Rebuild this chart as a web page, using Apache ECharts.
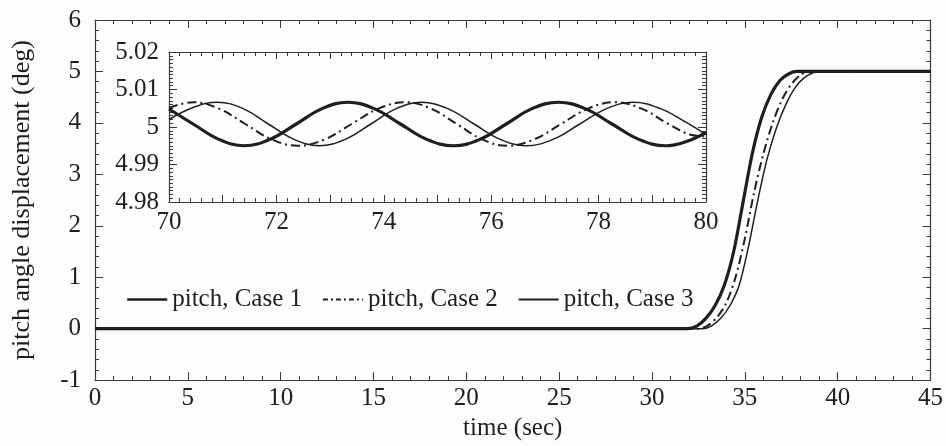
<!DOCTYPE html>
<html>
<head>
<meta charset="utf-8">
<script src="https://cdn.jsdelivr.net/npm/echarts@6.0.0/dist/echarts.min.js"></script>
<style>
  html, body { margin: 0; padding: 0; background: #fdfdfc; }
  #main { width: 946px; height: 446px; }
</style>
</head>
<body>
<div id="main"></div>
<script>
// main plot: pitch angle vs time, all cases sit at 0 then swing to 5 deg
var case1Main = [[0, 0], [31.9, 0], [32.4, 0.05], [32.9, 0.2], [33.4, 0.45], [33.9, 0.85], [34.4, 1.5], [34.9, 2.45], [35.4, 3.4], [35.9, 4.1], [36.4, 4.55], [36.9, 4.83], [37.4, 4.96], [37.8, 5.0], [45, 5.0]];
var case2Main = [[0, 0], [32.5, 0], [33.0, 0.06], [33.5, 0.22], [34.0, 0.5], [34.5, 1.0], [35.0, 1.75], [35.5, 2.65], [36.0, 3.4], [36.5, 4.0], [37.0, 4.45], [37.5, 4.75], [38.0, 4.93], [38.5, 5.0], [45, 5.0]];
var case3Main = [[0, 0], [32.7, 0], [33.2, 0.05], [33.7, 0.2], [34.2, 0.45], [34.7, 0.85], [35.2, 1.6], [35.7, 2.5], [36.2, 3.3], [36.7, 3.9], [37.2, 4.35], [37.7, 4.68], [38.2, 4.88], [38.7, 4.98], [39.0, 5.0], [45, 5.0]];

// inset: 70-80 sec, zoomed around 5 deg (peaks, troughs and crossings)
var case1Inset = [[70.0, 5.0048], [70.45, 5.0008], [70.93, 4.9967], [71.4, 4.9950], [71.88, 4.9967], [72.37, 5.0008], [72.85, 5.0049], [73.33, 5.0066], [73.82, 5.0049], [74.31, 5.0008], [74.8, 4.9967], [75.3, 4.9950], [75.79, 4.9967], [76.28, 5.0008], [76.76, 5.0049], [77.25, 5.0066], [77.75, 5.0049], [78.25, 5.0008], [78.75, 4.9967], [79.25, 4.9950], [79.65, 4.9962], [80.0, 4.9985]];
var case2Inset = [[70.0, 5.0051], [70.45, 5.0066], [70.93, 5.0049], [71.42, 5.0008], [71.91, 4.9967], [72.4, 4.9950], [72.9, 4.9967], [73.4, 5.0008], [73.9, 5.0049], [74.4, 5.0066], [74.88, 5.0049], [75.36, 5.0008], [75.83, 4.9967], [76.3, 4.9950], [76.8, 4.9967], [77.3, 5.0008], [77.8, 5.0049], [78.3, 5.0066], [78.8, 5.0049], [79.3, 5.0008], [79.7, 4.9980], [80.0, 4.9975]];
var case3Inset = [[70.0, 5.0020], [70.45, 5.0052], [70.9, 5.0066], [71.38, 5.0049], [71.85, 5.0008], [72.33, 4.9967], [72.8, 4.9950], [73.28, 4.9967], [73.76, 5.0008], [74.23, 5.0049], [74.7, 5.0066], [75.19, 5.0049], [75.68, 5.0008], [76.17, 4.9967], [76.65, 4.9950], [77.15, 4.9967], [77.65, 5.0008], [78.15, 5.0049], [78.65, 5.0066], [79.15, 5.0049], [79.6, 5.0015], [80.0, 4.9980]];

var seriesNames = ['pitch, Case 1', 'pitch, Case 2', 'pitch, Case 3'];

var ink = '#1e1e1e';
var axisInk = '#3a3a3a';
var font = 'Liberation Serif';

function axisBase(extra) {
    var a = {
        axisLine: { show: true, onZero: false, lineStyle: { color: axisInk, width: 1.2 } },
        axisTick: { show: true, inside: true, length: 8, lineStyle: { color: axisInk, width: 1 } },
        minorTick: { show: true, splitNumber: 5, length: 4, lineStyle: { color: axisInk, width: 1 } },
        splitLine: { show: false },
        minorSplitLine: { show: false },
        axisLabel: { color: ink, fontFamily: font, fontSize: 25 }
    };
    return Object.assign(a, extra);
}

var domDiv = document.getElementById('main');
var myChart = echarts.init(domDiv, null, { renderer: 'canvas' });

var insetTickX = { show: true, inside: true, length: 7, lineStyle: { color: axisInk, width: 1 } };
var insetMinorX = { show: true, splitNumber: 5, length: 4, lineStyle: { color: axisInk, width: 1 } };
var insetTickY = { show: true, inside: true, length: 8, lineStyle: { color: axisInk, width: 1 } };
var insetMinorY = { show: true, splitNumber: 10, length: 4, lineStyle: { color: axisInk, width: 1 } };

var option = {
    backgroundColor: '#fdfdfc',
    animation: false,
    grid: [
        { left: 95, top: 20, width: 837, height: 363 },
        { left: 169, top: 52, width: 537, height: 150 }
    ],
    legend: {
        data: [
            { name: seriesNames[0], itemStyle: { opacity: 0 }, lineStyle: { color: ink, width: 2.4, type: 'solid' } },
            { name: seriesNames[1], itemStyle: { opacity: 0 }, lineStyle: { color: ink, width: 1.8, type: [5, 3, 2, 3] } },
            { name: seriesNames[2], itemStyle: { opacity: 0 }, lineStyle: { color: ink, width: 1.8, type: 'solid' } }
        ],
        left: 121,
        top: 282,
        itemWidth: 40,
        itemHeight: 10,
        itemGap: 20,
        textStyle: { color: ink, fontFamily: font, fontSize: 25 }
    },
    xAxis: [
        axisBase({ gridIndex: 0, type: 'value', min: 0, max: 45, interval: 5, position: 'bottom',
            name: 'time (sec)', nameLocation: 'middle', nameGap: 34,
            nameTextStyle: { color: ink, fontFamily: font, fontSize: 25 },
            axisLabel: { color: ink, fontFamily: font, fontSize: 25, margin: 6 } }),
        axisBase({ gridIndex: 0, type: 'value', min: 0, max: 45, interval: 5, position: 'top',
            axisLabel: { show: false } }),
        axisBase({ gridIndex: 1, type: 'value', min: 70, max: 80, interval: 1, position: 'bottom',
            axisTick: insetTickX, minorTick: insetMinorX,
            axisLabel: { color: ink, fontFamily: font, fontSize: 25, margin: 8,
                formatter: function (v) { return Math.round(v) % 2 === 0 ? String(Math.round(v)) : ''; } } }),
        axisBase({ gridIndex: 1, type: 'value', min: 70, max: 80, interval: 1, position: 'top',
            axisTick: insetTickX, minorTick: insetMinorX,
            axisLabel: { show: false } })
    ],
    yAxis: [
        axisBase({ gridIndex: 0, type: 'value', min: -1, max: 6, interval: 1, position: 'left',
            name: 'pitch angle displacement (deg)', nameLocation: 'middle', nameGap: 60, nameRotate: 90,
            nameTextStyle: { color: ink, fontFamily: font, fontSize: 26 },
            axisLabel: { color: ink, fontFamily: font, fontSize: 25, margin: 14 } }),
        axisBase({ gridIndex: 0, type: 'value', min: -1, max: 6, interval: 1, position: 'right',
            axisLabel: { show: false } }),
        axisBase({ gridIndex: 1, type: 'value', min: 4.98, max: 5.02, interval: 0.01, position: 'left',
            axisTick: insetTickY, minorTick: insetMinorY,
            axisLabel: { color: ink, fontFamily: font, fontSize: 25, margin: 10,
                formatter: function (v) { return Math.abs(v - 5) < 1e-9 ? '5' : v.toFixed(2); } } }),
        axisBase({ gridIndex: 1, type: 'value', min: 4.98, max: 5.02, interval: 0.01, position: 'right',
            axisTick: insetTickY, minorTick: insetMinorY,
            axisLabel: { show: false } })
    ],
    series: [
        { name: seriesNames[0], type: 'line', xAxisIndex: 0, yAxisIndex: 0, data: case1Main,
          symbol: 'none', smooth: 0.3, lineStyle: { color: ink, width: 3.2 }, itemStyle: { color: ink } },
        { name: seriesNames[1], type: 'line', xAxisIndex: 0, yAxisIndex: 0, data: case2Main,
          symbol: 'none', smooth: 0.3, lineStyle: { color: ink, width: 2, type: [9, 4, 2, 4] }, itemStyle: { color: ink } },
        { name: seriesNames[2], type: 'line', xAxisIndex: 0, yAxisIndex: 0, data: case3Main,
          symbol: 'none', smooth: 0.3, lineStyle: { color: ink, width: 1.5 }, itemStyle: { color: ink } },
        { name: seriesNames[0], type: 'line', xAxisIndex: 2, yAxisIndex: 2, data: case1Inset,
          symbol: 'none', smooth: 0.4, lineStyle: { color: ink, width: 3.2 }, itemStyle: { color: ink } },
        { name: seriesNames[1], type: 'line', xAxisIndex: 2, yAxisIndex: 2, data: case2Inset,
          symbol: 'none', smooth: 0.4, lineStyle: { color: ink, width: 2, type: [9, 4, 2, 4] }, itemStyle: { color: ink } },
        { name: seriesNames[2], type: 'line', xAxisIndex: 2, yAxisIndex: 2, data: case3Inset,
          symbol: 'none', smooth: 0.4, lineStyle: { color: ink, width: 1.5 }, itemStyle: { color: ink } }
    ]
};

myChart.setOption(option);
window.onresize = function () {
    myChart.resize();
};
</script>
</body>
</html>
